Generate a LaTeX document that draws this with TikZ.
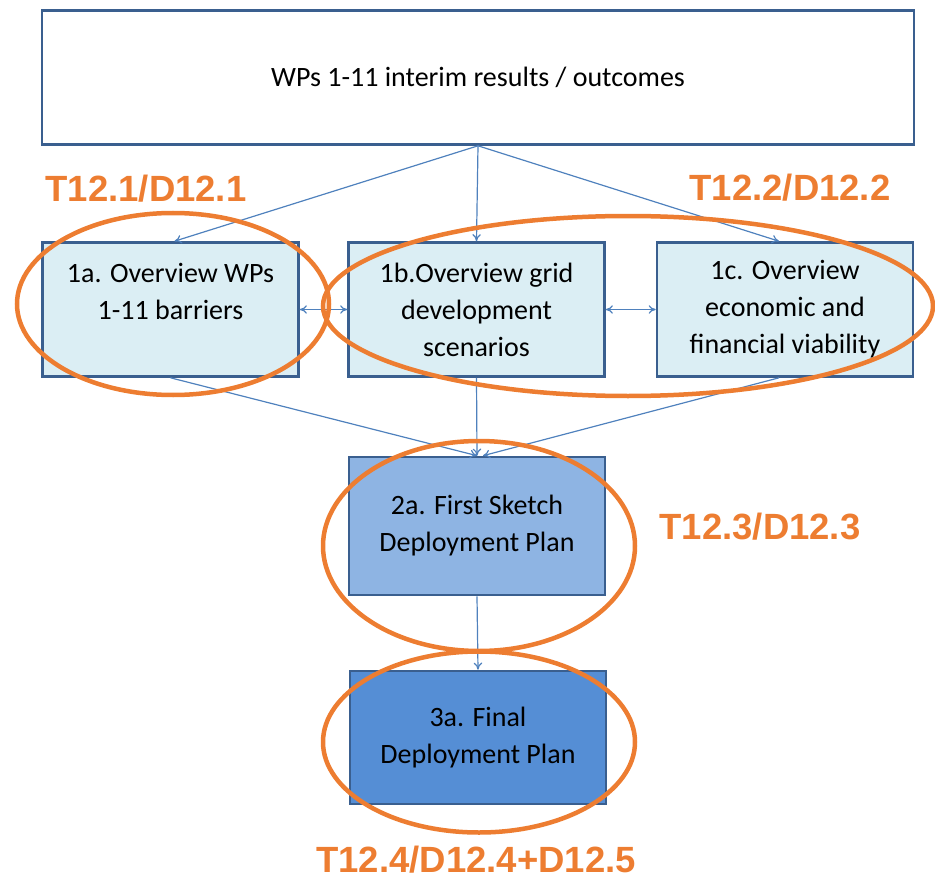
\documentclass[tikz,border=0pt]{standalone}
\usepackage{fontspec}
\setmainfont{Carlito}
\newfontfamily\tagfont{Liberation Sans}
\usepackage{tikz}
\usetikzlibrary{shapes.geometric, arrows.meta, positioning, calc}

\definecolor{edgeblue}{HTML}{3A5F8F}
\definecolor{lineblue}{HTML}{4F81BD}
\definecolor{paleblue}{HTML}{DBEEF4}
\definecolor{midblue}{HTML}{8EB4E3}
\definecolor{deepblue}{HTML}{558ED5}
\definecolor{tagorange}{HTML}{ED7D31}

\begin{document}
\begin{tikzpicture}[
  x=1pt, y=-1pt,
  font=\fontsize{28}{37}\selectfont,
  box/.style={draw=edgeblue, line width=2.6pt, align=center, fill=white,
              minimum width=256pt, minimum height=134pt, inner sep=0pt},
  ovw/.style={box, fill=paleblue},
  skt/.style={box, fill=midblue, minimum height=138pt},
  fin/.style={box, fill=deepblue, minimum height=133pt},
  ring/.style={draw=tagorange, line width=4.5pt, ellipse, inner sep=0pt},
  tag/.style={text=tagorange, font=\tagfont\bfseries\fontsize{36.5}{40}\selectfont},
  ar/.style={-{To[length=2.5mm, width=3mm]}, draw=lineblue, line width=1.2pt},
  ar2/.style={{To[length=2.5mm, width=3mm]}-{To[length=2.5mm, width=3mm]},
              draw=lineblue, line width=1.2pt}
]
\useasboundingbox (0,0) rectangle (935,880);
% boxes
\node[box, minimum width=872pt, minimum height=134pt] (wps) at (478,77.5)
  {WPs 1-11 interim results / outcomes};
\node[ovw] (ova) at (170.5,309.5) {1a. Overview WPs\\1-11 barriers\\\mbox{}};
\node[ovw] (ovb) at (476.5,309.5) {1b.Overview grid\\development\\scenarios};
\node[ovw] (ovc) at (785,309.5) {1c. Overview\\economic and\\financial viability};
\node[skt] (sketch) at (477,526) {2a. First Sketch\\Deployment Plan};
\node[fin] (final) at (478,737.5) {3a. Final\\Deployment Plan};
% connectors
\draw[ar] (wps.south) -- ($(ova.north)+(4,0)$);
\draw[ar] (wps.south) -- (ovb.north);
\draw[ar] (wps.south) -- ($(ovc.north)+(-6,0)$);
\draw[ar2] (ova.east) -- (ovb.west);
\draw[ar2] (ovb.east) -- (ovc.west);
\draw[ar] (ova.south) -- (sketch.north);
\draw[ar] (ovb.south) -- (sketch.north);
\draw[ar] ($(ovc.south)+(-6,0)$) -- ($(sketch.north)+(6,0)$);
\draw[ar] (sketch.south) -- (final.north);
% task rings
\node[ring, minimum width=312pt, minimum height=182pt] (r1) at (173,304) {};
\node[ring, minimum width=610pt, minimum height=180pt] (r2) at (628,306) {};
\node[ring, minimum width=312pt, minimum height=210pt] (r3) at (479,546) {};
\node[ring, minimum width=312pt, minimum height=181pt] (r4) at (479,742) {};
% task labels
\node[tag] (t1) at (146,189) {T12.1/D12.1};
\node[tag] (t2) at (790,188) {T12.2/D12.2};
\node[tag] (t3) at (760,527) {T12.3/D12.3};
\node[tag] (t4) at (476,860) {T12.4/D12.4+D12.5};
\end{tikzpicture}
\end{document}
